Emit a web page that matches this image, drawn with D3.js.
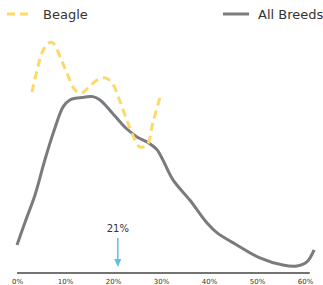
<!DOCTYPE html>
<html>
<head>
<meta charset="utf-8">
<script src="https://cdn.jsdelivr.net/npm/d3@7"></script>
<style>
  body { margin: 0; background: #fff; }
  svg { display: block; font-family: "DejaVu Sans", sans-serif; }
</style>
</head>
<body>
<svg id="chart" width="323" height="285"></svg>
<script>
// share of pixels (%) vs density
const allBreedsX = [0, 1.7, 3.75, 5.8, 7.9, 9.6, 11, 12.5, 14.2, 15.8, 17.3, 18.75, 20, 21.5, 22.9, 25, 27.1, 28.3, 29.2, 30.4, 32.5, 36, 39.6, 41.7, 45.8, 50.6, 55.4, 58.3, 60.4, 61.9];
const allBreedsY = [1.17, 2.13, 3.25, 4.71, 6.04, 6.92, 7.21, 7.29, 7.33, 7.35, 7.21, 6.92, 6.63, 6.29, 6.0, 5.67, 5.46, 5.29, 5.13, 4.71, 3.88, 3.04, 2.08, 1.67, 1.17, 0.63, 0.33, 0.29, 0.46, 0.96];
const beagleX = [3.1, 4.2, 5.2, 6.5, 7.5, 9.0, 10.4, 12.1, 13.5, 14.8, 16.7, 18.3, 19.8, 21.5, 23.1, 24.6, 25.6, 27.1, 28.3, 29.8];
const beagleY = [7.54, 8.46, 9.17, 9.58, 9.58, 9.0, 8.33, 7.63, 7.5, 7.71, 8.04, 8.13, 7.92, 7.13, 6.25, 5.54, 5.25, 5.33, 6.25, 7.33];
const tickValues = [0, 10, 20, 30, 40, 50, 60];
const markerValue = 21;

const svg = d3.select("#chart");

const x = d3.scaleLinear().domain([0, 60]).range([17, 305]);
const y = d3.scaleLinear().domain([0, 10]).range([273, 33]);

// x axis
const axis = svg.append("g")
  .attr("transform", "translate(0,273)")
  .call(d3.axisBottom(x).tickValues(tickValues).tickSize(0).tickPadding(6).tickFormat(d => d + "%"));
axis.select(".domain").attr("d", "M" + x(0) + ",0H" + x(61)).attr("stroke", "#444").attr("stroke-width", 1.5);
axis.selectAll("text").attr("font-size", 7).attr("fill", "#333").attr("font-family", "DejaVu Sans");

const line = d3.line().x(d => x(d[0])).y(d => y(d[1])).curve(d3.curveCatmullRom);

svg.append("path")
  .datum(d3.zip(allBreedsX, allBreedsY))
  .attr("d", line)
  .attr("fill", "none")
  .attr("stroke", "#7b7b7f")
  .attr("stroke-width", 3);

svg.append("path")
  .datum(d3.zip(beagleX, beagleY))
  .attr("d", line)
  .attr("fill", "none")
  .attr("stroke", "#fdd96a")
  .attr("stroke-width", 3)
  .attr("stroke-dasharray", "8,5");

// marker arrow
const mx = x(markerValue);
svg.append("text")
  .attr("x", mx).attr("y", 232)
  .attr("text-anchor", "middle")
  .attr("font-size", 10)
  .attr("fill", "#333")
  .text(markerValue + "%");
svg.append("line")
  .attr("x1", mx).attr("x2", mx)
  .attr("y1", 238).attr("y2", 260)
  .attr("stroke", "#5bbfe8").attr("stroke-width", 1.5);
svg.append("path")
  .attr("d", `M${mx - 3.5},259L${mx + 3.5},259L${mx},267Z`)
  .attr("fill", "#5bbfe8");

// legend
const legend = [
  { name: "Beagle", color: "#fdd96a", dash: "8,5", x: 7 },
  { name: "All Breeds", color: "#7b7b7f", dash: null, x: 223 }
];
const lg = svg.append("g").selectAll("g").data(legend).join("g")
  .attr("transform", d => `translate(${d.x},14)`);
lg.append("line")
  .attr("x1", 0).attr("x2", 26)
  .attr("stroke", d => d.color)
  .attr("stroke-width", 3)
  .attr("stroke-dasharray", d => d.dash);
lg.append("text")
  .attr("x", d => d.name === "Beagle" ? 36 : 35)
  .attr("y", 5)
  .attr("font-size", 13)
  .attr("fill", "#333")
  .text(d => d.name);
</script>
</body>
</html>
